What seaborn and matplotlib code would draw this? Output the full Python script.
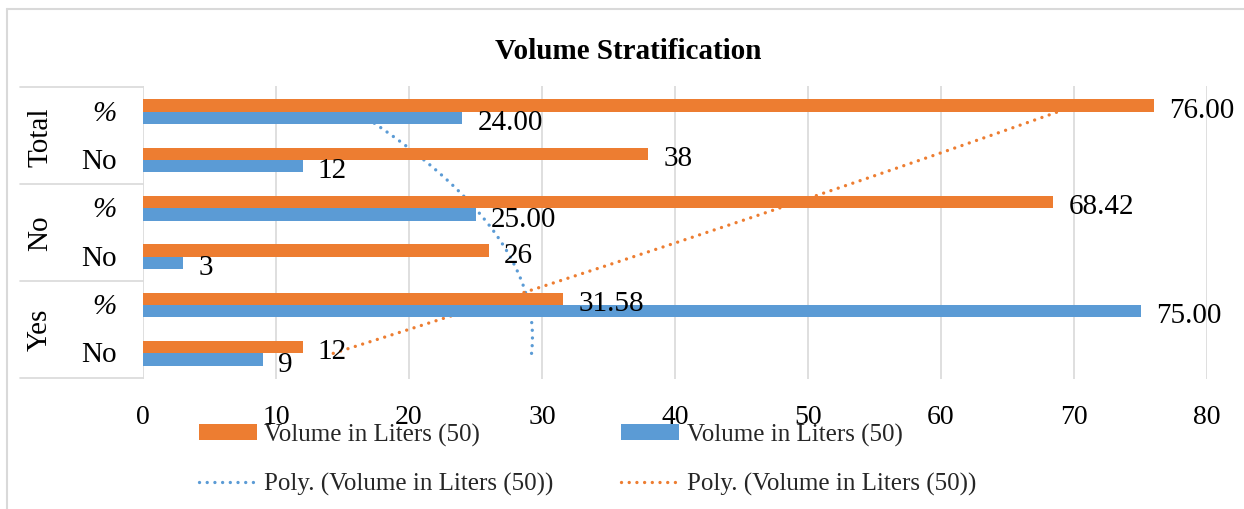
import numpy as np
import pandas as pd
import matplotlib
matplotlib.use("Agg")
import matplotlib.pyplot as plt
import seaborn as sns
from matplotlib.lines import Line2D
from matplotlib.patches import Patch

# ---- data (rows listed top to bottom) ----
groups = ["Total", "Total", "No", "No", "Yes", "Yes"]
items = ["%", "No", "%", "No", "%", "No"]
orange_vals = [76.00, 38, 68.42, 26, 31.58, 12]
blue_vals = [24.00, 12, 25.00, 3, 75.00, 9]
orange_txt = ["76.00", "38", "68.42", "26", "31.58", "12"]
blue_txt = ["24.00", "12", "25.00", "3", "75.00", "9"]
series_label = "Volume in Liters (50)"
trend_label = "Poly. (Volume in Liters (50))"
x_ticks = [0, 10, 20, 30, 40, 50, 60, 70, 80]
title = "Volume Stratification"

ORANGE = "#ED7D31"
BLUE = "#5B9BD5"
GRID = "#D9D9D9"

W, H, DPI = 1244, 510, 100

sns.set_theme(style="white")
plt.rcParams["font.family"] = ["Liberation Serif", "DejaVu Serif"]


def fx(px):
    return px / W


def fy(py):
    return 1 - py / H


fig = plt.figure(figsize=(W / DPI, H / DPI), dpi=DPI)
ax_l, ax_r, ax_t, ax_b = 143, 1207, 87, 380
ax = fig.add_axes([fx(ax_l), fy(ax_b), (ax_r - ax_l) / W, (ax_b - ax_t) / H])

keys = [f"{g}|{i}" for g, i in zip(groups, items)]
df = pd.DataFrame({
    "key": keys * 2,
    "series": ["s1"] * len(keys) + ["s2"] * len(keys),
    "value": orange_vals + blue_vals,
})

sns.barplot(data=df, y="key", x="value", hue="series", order=keys,
            hue_order=["s1", "s2"], palette=[ORANGE, BLUE], width=0.51,
            orient="h", saturation=1, errorbar=None, linewidth=0,
            legend=False, ax=ax, zorder=2)

# polynomial (order 2) trendlines over category index 1..6, bottom to top
t = np.arange(1, len(keys) + 1)
tt = np.linspace(1, len(keys), 300)
dot_style = dict(linestyle=(0, (0.01, 2.3)), linewidth=2.4,
                 dash_capstyle="round")
for vals, col in [(blue_vals, BLUE), (orange_vals, ORANGE)]:
    coef = np.polyfit(t, np.array(vals[::-1], dtype=float), 2)
    ax.plot(np.polyval(coef, tt), len(keys) - tt, color=col, zorder=1.5,
            **dot_style)

# value labels at bar ends
for cont, txts in zip(ax.containers, [orange_txt, blue_txt]):
    for patch, txt in zip(cont.patches, txts):
        yc = patch.get_y() + patch.get_height() / 2
        ax.annotate(txt, xy=(patch.get_width(), yc), xytext=(11, -3),
                    textcoords="offset points", ha="left", va="center",
                    fontsize=21, color="black", zorder=3)

ax.set_xlim(0, 80)
ax.set_xticks(x_ticks)
ax.set_xticklabels([str(v) for v in x_ticks])
ax.set_yticks([])
ax.set_xlabel("")
ax.set_ylabel("")
ax.set_axisbelow(True)
ax.grid(axis="x", color=GRID, linewidth=1.2, zorder=0)
ax.grid(axis="y", visible=False)
for sp in ax.spines.values():
    sp.set_visible(False)
ax.tick_params(axis="x", length=0, pad=18, labelsize=20, colors="black")

# two-level category labels with separator lines
ytr = ax.get_yaxis_transform()
span = ax_r - ax_l
x_inner = (117 - ax_l) / span
x_outer = (40 - ax_l) / span
x_table = (20 - ax_l) / span
for i, lab in enumerate(items):
    ax.text(x_inner, i + 0.02, lab, transform=ytr, ha="right", va="center",
            fontsize=21, color="black",
            style="italic" if lab == "%" else "normal")
uniq = []
for g in groups:
    if g not in uniq:
        uniq.append(g)
for gname in uniq:
    idx = [i for i, g in enumerate(groups) if g == gname]
    ax.text(x_outer, np.mean(idx), gname, transform=ytr, ha="center",
            va="center", rotation=90, fontsize=21, color="black")
bounds = [-0.5] + [max(i for i, g in enumerate(groups) if g == gname) + 0.5
                   for gname in uniq]
for b in bounds:
    ax.add_line(Line2D([x_table, 0], [b, b], transform=ytr, color=GRID,
                       linewidth=1.2, clip_on=False))

# legend
handles = [
    Patch(facecolor=ORANGE, edgecolor="none"),
    Line2D([], [], color=BLUE, **dot_style),
    Patch(facecolor=BLUE, edgecolor="none"),
    Line2D([], [], color=ORANGE, **dot_style),
]
labels = [series_label, trend_label, series_label, trend_label]
fig.legend(handles, labels, ncol=2, loc="upper left",
           bbox_to_anchor=(fx(199), fy(424)), frameon=False, fontsize=18,
           handlelength=2.3, handleheight=0.6, handletextpad=0.32,
           columnspacing=2.7, labelspacing=1.05, borderpad=0,
           borderaxespad=0)

fig.text(fx(628), fy(59), title, ha="center", va="baseline", fontsize=21,
         fontweight="bold", color="black")

# chart frame (left and top edges)
fig.add_artist(Line2D([fx(7), fx(7)], [fy(10), 0], color=GRID, linewidth=1.5))
fig.add_artist(Line2D([fx(7), 1], [fy(10), fy(10)], color=GRID, linewidth=1.5))

fig.savefig("out.png", dpi=DPI)
